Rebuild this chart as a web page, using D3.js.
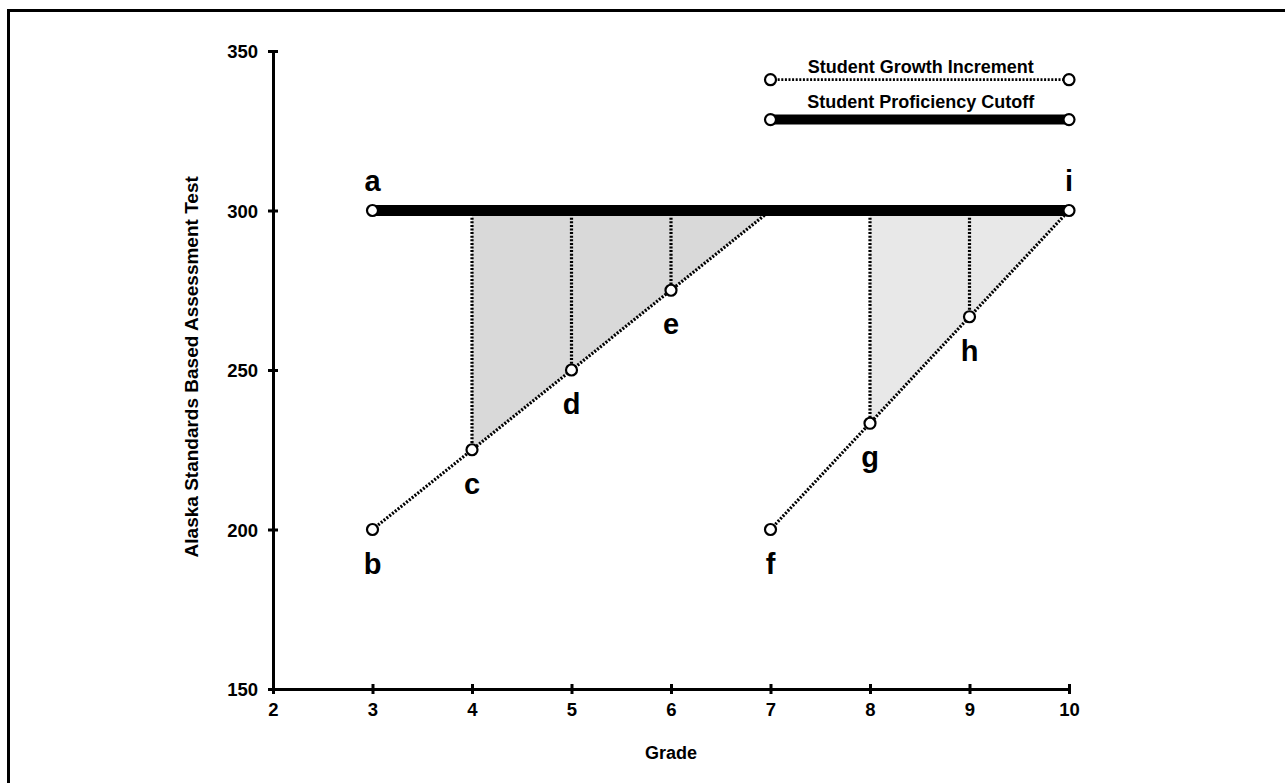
<!DOCTYPE html>
<html>
<head>
<meta charset="utf-8">
<script src="https://cdn.jsdelivr.net/npm/d3@7"></script>
<style>
  body { margin: 0; background: #fff; }
  svg text { font-family: "Liberation Sans", Arial, sans-serif; font-weight: bold; fill: #000; }
</style>
</head>
<body>
<div id="chart"></div>
<script>
// cutoff line and student points (grade, score)
var cutoff = 300;
var cutoffGrades = [3, 10];
var pointNames = ["a", "b", "c", "d", "e", "f", "g", "h", "i"];
var pointGrades = [3, 3, 4, 5, 6, 7, 8, 9, 10];
var pointScores = [300, 200, 225, 250, 275, 200, 233.3, 266.7, 300];
// growth lines: from b to cutoff at grade 7, from f to i
var growth1 = [[3, 200], [7, 300]];
var growth2 = [[7, 200], [10, 300]];
// shaded gaps
var gap1 = [[4, 300], [4, 225], [7, 300]];
var gap2 = [[8, 300], [8, 233.3], [10, 300]];
// vertical gap lines (grade, score)
var gapLines = [[4, 225], [5, 250], [6, 275], [8, 233.3], [9, 266.7]];
var xTicks = [2, 3, 4, 5, 6, 7, 8, 9, 10];
var yTicks = [150, 200, 250, 300, 350];
var legendLabels = ["Student Growth Increment", "Student Proficiency Cutoff"];
var legendScores = [341, 328.5];

var width = 1285, height = 783;
var svg = d3.select("#chart").append("svg")
    .attr("width", width)
    .attr("height", height);

// outer frame
svg.append("rect")
    .attr("x", 8.5).attr("y", 10.5)
    .attr("width", 1400).attr("height", 900)
    .attr("fill", "none").attr("stroke", "#000").attr("stroke-width", 3);

var x = d3.scaleLinear().domain([2, 10]).range([273, 1069]);
var y = d3.scaleLinear().domain([150, 350]).range([689, 51]);

var line = d3.line().x(d => x(d[0])).y(d => y(d[1]));

// shaded areas
svg.append("path").attr("d", line(gap1) + "Z").attr("fill", "#d9d9d9");
svg.append("path").attr("d", line(gap2) + "Z").attr("fill", "#e8e8e8");

// axes
var xAxis = svg.append("g")
    .attr("transform", "translate(0," + y(150) + ")")
    .call(d3.axisBottom(x).tickValues(xTicks).tickSize(5).tickPadding(9));
var yAxis = svg.append("g")
    .attr("transform", "translate(" + x(2) + ",0)")
    .call(d3.axisLeft(y).tickValues(yTicks).tickSize(5).tickPadding(10));

[xAxis, yAxis].forEach(function(g) {
    g.attr("font-size", 18.5).attr("font-family", null);
    g.select(".domain").attr("stroke", "#000").attr("stroke-width", 3);
    g.selectAll(".tick line").attr("stroke", "#000").attr("stroke-width", 3);
});
// make ticks straddle the axis
xAxis.selectAll(".tick line").attr("y1", -5).attr("y2", 5);
yAxis.selectAll(".tick line").attr("x1", -5).attr("x2", 5);
yAxis.selectAll(".tick text").attr("dy", "0.36em");

svg.append("text")
    .attr("x", x(6)).attr("y", 759)
    .attr("text-anchor", "middle").attr("font-size", 18)
    .text("Grade");
svg.append("text")
    .attr("transform", "translate(198," + y(251) + ") rotate(-90)")
    .attr("text-anchor", "middle").attr("font-size", 19)
    .text("Alaska Standards Based Assessment Test");

var dotted = { "stroke": "#000", "stroke-width": 3.2, "stroke-dasharray": "2,1.6", "fill": "none" };

function styled(sel, s) {
    Object.keys(s).forEach(k => sel.attr(k, s[k]));
    return sel;
}

// vertical gap lines
gapLines.forEach(function(d) {
    styled(svg.append("line")
        .attr("x1", x(d[0])).attr("x2", x(d[0]))
        .attr("y1", y(cutoff)).attr("y2", y(d[1])), dotted);
});

// growth lines
styled(svg.append("path").attr("d", line(growth1)), dotted);
styled(svg.append("path").attr("d", line(growth2)), dotted);

// cutoff line
svg.append("line")
    .attr("x1", x(cutoffGrades[0])).attr("x2", x(cutoffGrades[1]))
    .attr("y1", y(cutoff)).attr("y2", y(cutoff))
    .attr("stroke", "#000").attr("stroke-width", 11);

// points
svg.selectAll(".pt")
    .data(pointGrades)
    .enter().append("circle")
    .attr("class", "pt")
    .attr("cx", d => x(d))
    .attr("cy", (d, i) => y(pointScores[i]))
    .attr("r", 5.5)
    .attr("fill", "#fff").attr("stroke", "#000").attr("stroke-width", 2.2);

// letter labels: above for points on the cutoff, below otherwise
svg.selectAll(".lbl")
    .data(pointNames)
    .enter().append("text")
    .attr("class", "lbl")
    .attr("x", (d, i) => x(pointGrades[i]))
    .attr("y", (d, i) => pointScores[i] >= cutoff ? y(pointScores[i]) - 20 : y(pointScores[i]) + 44)
    .attr("text-anchor", "middle")
    .attr("font-size", 29)
    .text(d => d);

// legend
var lx = [x(7), x(10)];
var legendGap = [7, 12];
legendLabels.forEach(function(lab, i) {
    var ly = y(legendScores[i]);
    var l = svg.append("line")
        .attr("x1", lx[0]).attr("x2", lx[1])
        .attr("y1", ly).attr("y2", ly);
    if (i === 0) styled(l, dotted).attr("stroke-width", 2.8);
    else l.attr("stroke", "#000").attr("stroke-width", 10);
    lx.forEach(function(px) {
        svg.append("circle").attr("cx", px).attr("cy", ly).attr("r", 5.5)
            .attr("fill", "#fff").attr("stroke", "#000").attr("stroke-width", 2.2);
    });
    svg.append("text")
        .attr("x", (lx[0] + lx[1]) / 2 + 1).attr("y", ly - legendGap[i])
        .attr("text-anchor", "middle").attr("font-size", 18)
        .text(lab);
});
</script>
</body>
</html>
